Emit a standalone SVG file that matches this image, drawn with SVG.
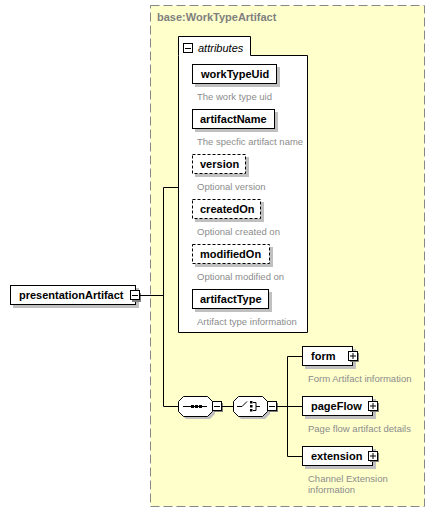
<svg xmlns="http://www.w3.org/2000/svg" width="435" height="512" viewBox="0 0 435 512">
<defs>
<style>
.bg{fill:#ffffff}
.frame{fill:#FFFFCC;stroke:#888888;stroke-width:1;stroke-dasharray:9,4}
.title{font-family:"Liberation Sans",Arial,sans-serif;font-size:11px;font-weight:bold;fill:#808080}
.attr{fill:#ffffff;stroke:#000000;stroke-width:1}
.sh{fill:#c0c0c0}
.box{fill:#ffffff;stroke:#000000;stroke-width:1}
.opt{fill:#ffffff;stroke:#000000;stroke-width:1;stroke-dasharray:3,2}
.name{font-family:"Liberation Sans",Arial,sans-serif;font-size:11px;font-weight:bold;fill:#000000}
.ital{font-family:"Liberation Sans",Arial,sans-serif;font-size:11px;font-style:italic;fill:#000000}
.desc{font-family:"Liberation Sans",Arial,sans-serif;font-size:9.5px;fill:#8c8c8c}
.ln{fill:none;stroke:#000000;stroke-width:1}
.ic{fill:#ffffff;stroke:#000000;stroke-width:1}
.icsh{fill:#808080}
</style>
</defs>
<rect class="bg" x="0" y="0" width="435" height="512"/>
<g id="WorkTypeArtifact">
<rect class="frame" x="150.5" y="5.5" width="274" height="501"/>
<text class="title" x="157" y="21">base:WorkTypeArtifact</text>
</g>
<g id="attributes">
<path class="attr" d="M178.5,55.5 V36.5 H250.5 V55.5 H307.5 V332.5 H178.5 Z"/>
<rect class="ic" x="183.5" y="43.5" width="9" height="9"/>
<path class="ln" d="M185,48.5 H191"/>
<text class="ital" x="198" y="52">attributes</text>
</g>
<g id="workTypeUid">
<rect class="sh" x="195" y="67" width="85" height="20"/>
<rect class="box" x="192.5" y="64.5" width="84" height="19"/>
<text class="name" x="201" y="78">workTypeUid</text>
<text class="desc" x="197" y="100">The work type uid</text>
</g>
<g id="artifactName">
<rect class="sh" x="195" y="112" width="83" height="20"/>
<rect class="box" x="192.5" y="109.5" width="82" height="19"/>
<text class="name" x="200" y="123">artifactName</text>
<text class="desc" x="197" y="145">The specfic artifact name</text>
</g>
<g id="version">
<rect class="sh" x="195" y="157" width="54" height="20"/>
<rect class="opt" x="192.5" y="154.5" width="53" height="19"/>
<text class="name" x="200" y="168">version</text>
<text class="desc" x="197" y="190">Optional version</text>
</g>
<g id="createdOn">
<rect class="sh" x="195" y="202" width="69" height="20"/>
<rect class="opt" x="192.5" y="199.5" width="68" height="19"/>
<text class="name" x="200" y="213">createdOn</text>
<text class="desc" x="197" y="235">Optional created on</text>
</g>
<g id="modifiedOn">
<rect class="sh" x="195" y="247" width="78" height="20"/>
<rect class="opt" x="192.5" y="244.5" width="77" height="19"/>
<text class="name" x="200" y="258">modifiedOn</text>
<text class="desc" x="197" y="280">Optional modified on</text>
</g>
<g id="artifactType">
<rect class="sh" x="195" y="292" width="77" height="20"/>
<rect class="box" x="192.5" y="289.5" width="76" height="19"/>
<text class="name" x="200" y="303">artifactType</text>
<text class="desc" x="197" y="325">Artifact type information</text>
</g>
<g id="presentationArtifact">
<rect class="sh" x="13" y="288" width="126" height="20"/>
<rect class="box" x="10.5" y="285.5" width="125" height="19"/>
<text class="name" x="19" y="299">presentationArtifact</text>
<rect class="icsh" x="132" y="293" width="9" height="9"/>
<rect class="ic" x="130.5" y="290.5" width="9" height="9"/>
<path class="ln" d="M132,295.5 H138"/>
</g>
<g id="sequence">
<path class="sh" d="M186,399 H210 L215,404 V414 L210,419 H186 L181,414 V404 Z"/>
<path class="box" d="M183.5,396.5 H207.5 L212.5,401.5 V411.5 L207.5,416.5 H183.5 L178.5,411.5 V401.5 Z"/>
<path class="ln" d="M183,406.5 H207"/>
<rect x="191" y="405" width="3" height="3" fill="#000"/>
<rect x="195" y="405" width="3" height="3" fill="#000"/>
<rect x="199" y="405" width="3" height="3" fill="#000"/>
<rect class="icsh" x="214" y="403" width="9" height="9"/>
<rect class="ic" x="212.5" y="401.5" width="9" height="9"/>
<path class="ln" d="M214,406.5 H220"/>
</g>
<g id="choice">
<path class="sh" d="M241,399 H265 L270,404 V414 L265,419 H241 L236,414 V404 Z"/>
<path class="box" d="M238.5,396.5 H262.5 L267.5,401.5 V411.5 L262.5,416.5 H238.5 L233.5,411.5 V401.5 Z"/>
<path class="ln" d="M237,406.5 H242 L247,401.5 M253,402.5 H256 V410.5 H253 M256,406.5 H260"/>
<rect x="250" y="401" width="2.5" height="2.5" fill="#000"/>
<rect x="250" y="405" width="2.5" height="2.5" fill="#000"/>
<rect x="250" y="409" width="2.5" height="2.5" fill="#000"/>
<rect class="icsh" x="269" y="403" width="9" height="9"/>
<rect class="ic" x="267.5" y="401.5" width="9" height="9"/>
<path class="ln" d="M269,406.5 H275"/>
</g>
<g id="form">
<rect class="sh" x="305" y="349" width="51" height="20"/>
<rect class="box" x="302.5" y="346.5" width="50" height="19"/>
<text class="name" x="311" y="360">form</text>
<rect class="icsh" x="350" y="353" width="9" height="9"/>
<rect class="ic" x="348.5" y="351.5" width="9" height="9"/>
<path class="ln" d="M350,356 H356 M353,353 V359"/>
<text class="desc" x="308" y="382">Form Artifact information</text>
</g>
<g id="pageFlow">
<rect class="sh" x="305" y="399" width="71" height="20"/>
<rect class="box" x="302.5" y="396.5" width="70" height="19"/>
<text class="name" x="311" y="410">pageFlow</text>
<rect class="icsh" x="370" y="403" width="9" height="9"/>
<rect class="ic" x="368.5" y="401.5" width="9" height="9"/>
<path class="ln" d="M370,406 H376 M373,403 V409"/>
<text class="desc" x="308" y="432">Page flow artifact details</text>
</g>
<g id="extension">
<rect class="sh" x="305" y="449" width="71" height="20"/>
<rect class="box" x="302.5" y="446.5" width="70" height="19"/>
<text class="name" x="311" y="460">extension</text>
<rect class="icsh" x="370" y="453" width="9" height="9"/>
<rect class="ic" x="368.5" y="451.5" width="9" height="9"/>
<path class="ln" d="M370,456 H376 M373,453 V459"/>
<text class="desc" x="308" y="482">Channel Extension</text>
<text class="desc" x="308" y="493">information</text>
</g>
<g id="connectors">
<path class="ln" d="M140,295.5 H163.5"/>
<path class="ln" d="M163.5,187.5 V406.5"/>
<path class="ln" d="M163.5,187.5 H178.5"/>
<path class="ln" d="M163.5,406.5 H178.5"/>
<path class="ln" d="M222,406.5 H233.5"/>
<path class="ln" d="M277,406.5 H287.5"/>
<path class="ln" d="M287.5,356.5 V456.5"/>
<path class="ln" d="M287.5,356.5 H302.5"/>
<path class="ln" d="M287.5,406.5 H302.5"/>
<path class="ln" d="M287.5,456.5 H302.5"/>
</g>
</svg>
